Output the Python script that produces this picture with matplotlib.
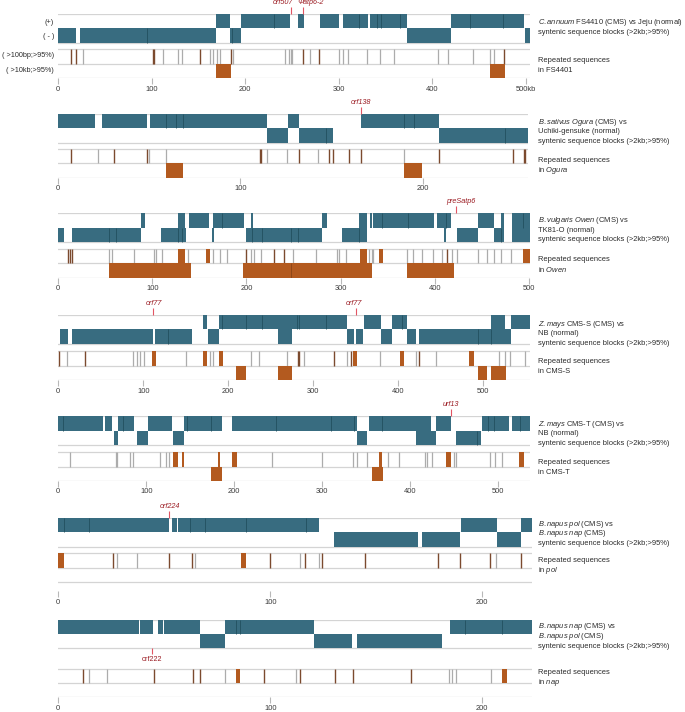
import matplotlib
matplotlib.use('Agg')
import matplotlib.pyplot as plt

plt.rcParams['font.family'] = ['Liberation Sans', 'DejaVu Sans']
plt.rcParams['mathtext.fontset'] = 'custom'
plt.rcParams['mathtext.rm'] = 'Liberation Sans'
plt.rcParams['mathtext.it'] = 'Liberation Sans:italic'

# ---------------- data (kb) ----------------
p1_xmax = 505
p1_plus = [[169,184],[195,231],[231,248],[256,263],[280,300.6],[304,322],[322,331.5],
           [333.4,341],[341,345],[345,365],[365,372.6],[419.7,440],[440,476],[476,498.4]]
p1_minus = [[0,19],[23.2,94.5],[94.5,168.7],[183.6,186],[186,195],[372.6,419.7],[499,505]]
p1_rep_gray = [26.7,112.3,127.6,132.3,162.2,165,169.3,172.9,187.2,242.8,246.3,248.5,249.9,
               269.2,300.5,304.8,310.2,330.5,344.1,359,406.4,417.1,443.2,461.7,466]
p1_rep_brown = [13.2,18.5,101.6,102.4,151.5,184.3,262,279.1,477]
p1_rep_blocks = []
p1_big = [[168.7,184.7],[461.7,477.6]]
p1_markers = [(249,'orf507'),(262,'Ψatp6-2')]
p1_ticks = [0,100,200,300,400,500]
p1_ticklabels = ['0','100','200','300','400','500kb']

p2_xmax = 257.6
p2_plus = [[0,20.1],[23.8,48.5],[50.3,58.9],[58.9,64.4],[64.4,68.4],[68.4,114.3],[125.8,132],
           [166.4,189.8],[189.8,195.1],[195.1,208.8]]
p2_minus = [[114.3,125.8],[132,146.8],[146.8,150.9],[208.8,245.4],[245.4,257.6]]
p2_rep_gray = [21.6,49.8,58.9,114.3,125.6,142.6,189.8]
p2_rep_brown = [7,30.7,48.5,110.6,111.5,132.2,148.5,150.5,159.6,165.9,209,249.3,255.6,256.4]
p2_rep_blocks = []
p2_big = [[58.9,68.4],[189.8,199.5]]
p2_markers = [(166,'orf138')]
p2_ticks = [0,100,200]
p2_ticklabels = ['0','100','200']

p3_xmax = 501.3
p3_plus = [[87.6,92.1],[127.5,134.6],[138.6,160.1],[164.7,173.6],[173.6,197.7],[204.5,207.2],
           [280.6,285.2],[319.9,327.7],[331.2,333.7],[334.7,344.3],[344.3,371.3],[371.3,399.3],
           [402.1,412],[412,417.3],[446.3,463],[470.5,474],[481.8,493.5],[493.5,501.3]]
p3_minus = [[0,6],[14.2,54.2],[54.2,61.3],[61.3,87.6],[109.1,127.5],[127.5,131],[131,135.4],
            [163,165.5],[199.5,205.5],[205.5,216.8],[216.8,247],[247,254.4],[254.4,280.6],
            [302,319.9],[319.9,327.7],[409.9,412],[423.4,446.3],[463,470.5],[470.5,474],
            [481.8,501.3]]
p3_rep_gray = [54.2,57.4,80.8,102,103.6,109.9,137.5,164.7,171.7,179,204.5,208,215,249.7,273.5,
               295.9,298.5,305.7,330.5,333,334.7,370.2,377.3,386.8,398.5,407.4,418,423.4,446.3,
               455.3,463,470.5,480.8]
p3_rep_brown = [10.6,12.4,14.2,199.1,229.2,239.9,413.4]
p3_rep_blocks = [[127.5,134.6],[156.6,161.2],[320.6,327.7],[340.8,345.4],[493.5,501.3]]
p3_big = [[54.2,140.7],[196,247],[247,333],[370.2,420.8]]
p3_markers = [(422.6,'preSatp6')]
p3_ticks = [0,100,200,300,400,500]
p3_ticklabels = ['0','100','200','300','400','500']

p4_xmax = 555.6
p4_plus = [[170,175.5],[189.3,192.5],[192.5,220.7],[220.7,240.3],[240.3,280.8],[280.8,283.5],
           [283.5,315.3],[315.3,339.7],[360,379.7],[392.7,405.2],[405.2,410.4],[509.7,526.1],
           [532.9,555.6]]
p4_minus = [[2,11],[15.8,111.2],[113.9,129.6],[129.6,157.1],[176.7,189.3],[258.4,275.6],
            [339.7,348.3],[350.6,359.2],[379.7,392.7],[410.4,421.3],[424.9,494.7],[494.7,509.7],
            [509.7,532.9]]
p4_rep_gray = [10.3,87.6,92.3,96.2,101.3,150,178.7,182.6,226.6,236.8,269,289.6,339.7,379,421.3,
               444.9,519,525.7,532.5,549.4]
p4_rep_brown = [1.2,31.5,282,283.5,324.9,344.4,424.9]
p4_rep_blocks = [[110,114.7],[170,175.5],[189.3,194.3],[347.5,352.2],[402.5,407.5],[484.1,489.6]]
p4_big = [[209.3,220.7],[258.4,275.6],[494,505.3],[509.7,527]]
p4_markers = [(111.2,'orf77'),(350.3,'orf77')]
p4_ticks = [0,100,200,300,400,500]
p4_ticklabels = ['0','100','200','300','400','500']

p5_xmax = 536
p5_plus = [[0,5.7],[5.7,51.1],[53.1,60.7],[68.2,73.9],[73.9,86],[101.6,128.9],[143.2,146],
           [146,173.5],[173.5,185.7],[197.7,247.4],[247.4,309.9],[309.9,336],[336,339.8],
           [353,368.2],[368.2,423.2],[429.2,446.3],[481.1,488.7],[488.7,495.1],[495.1,512.5],
           [515.2,524.7],[524.7,536]]
p5_minus = [[63.3,68.2],[89.8,101.6],[130,143.2],[339.1,350.5],[406.5,429.2],[452,475.4],
            [475.4,480]]
p5_rep_gray = [13.5,65.2,67,81.4,85.2,115.5,122,125.8,242.4,299.2,335.2,339.8,351.1,374.2,
               387.4,416.6,419.2,424.2,449.6,452.2,490.5,496.2,503.8]
p5_rep_brown = []
p5_rep_blocks = [[130,135.7],[140.2,142.8],[181.1,183.8],[197.7,203.4],[364.8,368.2],
                 [440.6,446.3],[523.9,529.5]]
p5_big = [[173.2,185.7],[356.8,369.3]]
p5_markers = [(446.3,'urf13')]
p5_ticks = [0,100,200,300,400,500]
p5_ticklabels = ['0','100','200','300','400','500']

p6_xmax = 223.4
p6_plus = [[0,2.5],[2.5,14.5],[14.5,52.1],[53.8,55.8],[56.3,62],[62,69.3],[69.3,88.7],
           [88.7,116.9],[116.9,122.9],[190.1,206.8],[218.2,223.4]]
p6_minus = [[130.1,169.6],[171.5,189.7],[206.8,218.2]]
p6_rep_gray = [27.9,37.2,64.5,114.2,123,206.6]
p6_rep_brown = [25.9,52.1,62.9,99.7,116.6,124.5,144.8,179.3,189.7,203.5,218.2]
p6_rep_blocks = [[0,2.5],[86.2,88.7]]
p6_big = []
p6_markers = [(52.1,'orf224')]
p6_ticks = [0,100,200]
p6_ticklabels = ['0','100','200']

p7_xmax = 223.4
p7_plus = [[0,38.3],[38.7,44.5],[46.9,49.4],[49.8,67],[78.4,83.6],[83.6,85.8],[85.8,120.4],
           [184.9,191.7],[191.7,209.3],[209.3,223.4]]
p7_minus = [[67,78.4],[120.4,138.4],[141.1,180.8]]
p7_rep_gray = [14.3,23.2,78.4,112.1,184.5,185.9,187.6,204.1]
p7_rep_brown = [11.8,45.3,63.5,67,97,113.8,130.7,139,166.3]
p7_rep_blocks = [[83.6,85.8],[209.3,211.8]]
p7_big = []
p7_markers = [(44.3,'orf222')]
p7_ticks = [0,100,200]
p7_ticklabels = ['0','100','200']

syn_labels = [
    [r'$\mathit{C.annuum}$ FS4410 (CMS) vs Jeju (normal)', 'syntenic sequence blocks (>2kb;>95%)'],
    [r'$\mathit{B.sativus\ Ogura}$ (CMS) vs', 'Uchiki-gensuke (normal)', 'syntenic sequence blocks (>2kb;>95%)'],
    [r'$\mathit{B.vulgaris\ Owen}$ (CMS) vs', 'TK81-O (normal)', 'syntenic sequence blocks (>2kb;>95%)'],
    [r'$\mathit{Z.mays}$ CMS-S (CMS) vs', 'NB (normal)', 'syntenic sequence blocks (>2kb;>95%)'],
    [r'$\mathit{Z.mays}$ CMS-T (CMS) vs', 'NB (normal)', 'syntenic sequence blocks (>2kb;>95%)'],
    [r'$\mathit{B.napus\ pol}$ (CMS) vs', r'$\mathit{B.napus\ nap}$ (CMS)', 'syntenic sequence blocks (>2kb;>95%)'],
    [r'$\mathit{B.napus\ nap}$ (CMS) vs', r'$\mathit{B.napus\ pol}$ (CMS)', 'syntenic sequence blocks (>2kb;>95%)'],
]
rep_labels = [
    ['Repeated sequences', 'in FS4401'],
    ['Repeated sequences', r'in $\mathit{Ogura}$'],
    ['Repeated sequences', r'in $\mathit{Owen}$'],
    ['Repeated sequences', 'in CMS-S'],
    ['Repeated sequences', 'in CMS-T'],
    ['Repeated sequences', r'in $\mathit{pol}$'],
    ['Repeated sequences', r'in $\mathit{nap}$'],
]
left_labels = ['(+)', '( - )', '( >100bp;>95%)', '( >10kb;>95%)']

# ---------------- layout (pixels) ----------------
W, H = 685, 712
TEAL = '#386c80'; DIV = '#22505f'; BROWN = '#b35a1f'; BLINE = '#7b4a2e'
GLINE = '#acacac'; RULE = '#d4d4d4'; MRED = '#e25563'; TRED = '#9b1b22'
FS = 5.4

fig = plt.figure(figsize=(W/100, H/100), dpi=100)

panels = [
    dict(xmax=p1_xmax, plus=p1_plus, minus=p1_minus, rg=p1_rep_gray, rb=p1_rep_brown, rbl=p1_rep_blocks,
         big=p1_big, mk=p1_markers, ticks=p1_ticks, tl=p1_ticklabels, top=14, scale=0.935,
         rows=[0, 14.5, 29, 35.5, 49.8, 64.2], axb=64.2, mkpos='above', mkoff=[-8, 7],
         syny=[9, 19], repy=[46, 56]),
    dict(xmax=p2_xmax, plus=p2_plus, minus=p2_minus, rg=p2_rep_gray, rb=p2_rep_brown, rbl=p2_rep_blocks,
         big=p2_big, mk=p2_markers, ticks=p2_ticks, tl=p2_ticklabels, top=114, scale=1.822,
         rows=[0, 14.2, 29, 35.3, 49.5, 63.8], axb=63.8, mkpos='above', mkoff=[0],
         syny=[8, 17.7, 27.4], repy=[46, 56]),
    dict(xmax=p3_xmax, plus=p3_plus, minus=p3_minus, rg=p3_rep_gray, rb=p3_rep_brown, rbl=p3_rep_blocks,
         big=p3_big, mk=p3_markers, ticks=p3_ticks, tl=p3_ticklabels, top=213.3, scale=0.941,
         rows=[0, 14.7, 28.6, 36, 50, 64.4], axb=64.4, mkpos='above', mkoff=[5],
         syny=[7, 16.7, 26.4], repy=[46, 56]),
    dict(xmax=p4_xmax, plus=p4_plus, minus=p4_minus, rg=p4_rep_gray, rb=p4_rep_brown, rbl=p4_rep_blocks,
         big=p4_big, mk=p4_markers, ticks=p4_ticks, tl=p4_ticklabels, top=315, scale=0.849,
         rows=[0, 14.5, 29.3, 36, 50.5, 65], axb=65, mkpos='above', mkoff=[1, -2],
         syny=[9, 18.7, 28.4], repy=[46.5, 56.5]),
    dict(xmax=p5_xmax, plus=p5_plus, minus=p5_minus, rg=p5_rep_gray, rb=p5_rep_brown, rbl=p5_rep_blocks,
         big=p5_big, mk=p5_markers, ticks=p5_ticks, tl=p5_ticklabels, top=416, scale=0.88,
         rows=[0, 14.7, 29, 35.7, 50.5, 64.7], axb=64.7, mkpos='above', mkoff=[0],
         syny=[8, 17.7, 27.4], repy=[46.5, 56.5]),
    dict(xmax=p6_xmax, plus=p6_plus, minus=p6_minus, rg=p6_rep_gray, rb=p6_rep_brown, rbl=p6_rep_blocks,
         big=p6_big, mk=p6_markers, ticks=p6_ticks, tl=p6_ticklabels, top=518, scale=2.12,
         rows=[0, 14.3, 28.7, 35.3, 50.3, 63.7], axb=73, mkpos='above', mkoff=[1],
         syny=[6, 15.7, 25.4], repy=[43, 53]),
    dict(xmax=p7_xmax, plus=p7_plus, minus=p7_minus, rg=p7_rep_gray, rb=p7_rep_brown, rbl=p7_rep_blocks,
         big=p7_big, mk=p7_markers, ticks=p7_ticks, tl=p7_ticklabels, top=620, scale=2.12,
         rows=[0, 13.5, 27.5, 49.3, 63.3, 77], axb=77, mkpos='below', mkoff=[0],
         syny=[7, 16.7, 26.4], repy=[53, 62]),
]

X0 = 58.3
XT = 538

def draw_blocks(ax, blocks, y0, y1, color, divcolor):
    prev_end = None
    for s, e in blocks:
        ax.broken_barh([(s, e - s)], (y0, y1 - y0), facecolors=color, edgecolors='none', zorder=2)
        if prev_end is not None and abs(s - prev_end) < 1e-6:
            ax.vlines(s, y0, y1, color=divcolor, lw=0.6, zorder=3)
        prev_end = e

for i, p in enumerate(panels):
    top = p['top']
    r = p['rows']
    axb = p['axb']
    right_px = X0 + p['xmax'] * p['scale']
    ax = fig.add_axes([X0 / W, 1 - (top + axb) / H, (right_px - X0) / W, axb / H])
    ax.set_xlim(0, p['xmax'])
    ax.set_ylim(axb, 0)
    for s in ax.spines.values():
        s.set_visible(False)
    ax.set_yticks([])
    ax.set_xticks(p['ticks'])
    ax.set_xticklabels(p['tl'], fontsize=FS, color='#3a3a3a')
    ax.tick_params(axis='x', direction='out', length=4.2, width=0.8, color='#b8b8b8', pad=1.3)
    ax.patch.set_alpha(0)

    # rules
    for yy in [r[0], r[2], r[3], r[4], r[5]]:
        ax.axhline(yy, color=RULE, lw=0.9, zorder=1)
    if axb > r[5] + 1:
        ax.axhline(axb, color='#e4e4e4', lw=0.6, zorder=1)

    # synteny blocks
    draw_blocks(ax, p['plus'], r[0], r[1], TEAL, DIV)
    draw_blocks(ax, p['minus'], r[1], r[2], TEAL, DIV)

    # repeats (>100bp)
    ax.vlines(p['rg'], r[3], r[4], color=GLINE, lw=0.9, zorder=2)
    if p['rb']:
        ax.vlines(p['rb'], r[3], r[4], color=BLINE, lw=1.0, zorder=2)
    for s, e in p['rbl']:
        ax.broken_barh([(s, e - s)], (r[3], r[4] - r[3]), facecolors=BROWN, edgecolors='none', zorder=3)
    # repeats (>10kb)
    draw_blocks(ax, p['big'], r[4], r[5], BROWN, '#8a4415')

    # markers
    for (x, name), off in zip(p['mk'], p['mkoff']):
        if p['mkpos'] == 'above':
            ax.vlines(x, -7, 0, color=MRED, lw=0.8, clip_on=False, zorder=4)
            ax.annotate(name, (x, -8.2), xytext=(off, 0), textcoords='offset pixels',
                        ha='center', va='bottom', fontsize=5.2, style='italic', color=TRED,
                        annotation_clip=False)
        else:
            ax.vlines(x, r[2] + 0.5, r[2] + 6.5, color=MRED, lw=0.8, clip_on=False, zorder=4)
            ax.annotate(name, (x, r[2] + 8.5), xytext=(off, 0), textcoords='offset pixels',
                        ha='center', va='top', fontsize=5.2, color=TRED,
                        annotation_clip=False)

    # right labels
    for txt, yy in zip(syn_labels[i], p['syny']):
        fig.text(XT / W, 1 - (top + yy) / H, txt, fontsize=FS, color='#2b2b2b', ha='left', va='center')
    for txt, yy in zip(rep_labels[i], p['repy']):
        fig.text(XT / W, 1 - (top + yy) / H, txt, fontsize=FS, color='#2b2b2b', ha='left', va='center')

# left labels panel 1
p = panels[0]
r = p['rows']
ly = [(r[0] + r[1]) / 2 + 1.5, (r[1] + r[2]) / 2 + 0.5, (r[3] + r[4]) / 2 - 1.5, (r[4] + r[5]) / 2 - 0.5]
for txt, yy in zip(left_labels, ly):
    fig.text(54 / W, 1 - (p['top'] + yy) / H, txt, fontsize=5.2, color='#2b2b2b', ha='right', va='center')

fig.savefig('out.png', dpi=100)
